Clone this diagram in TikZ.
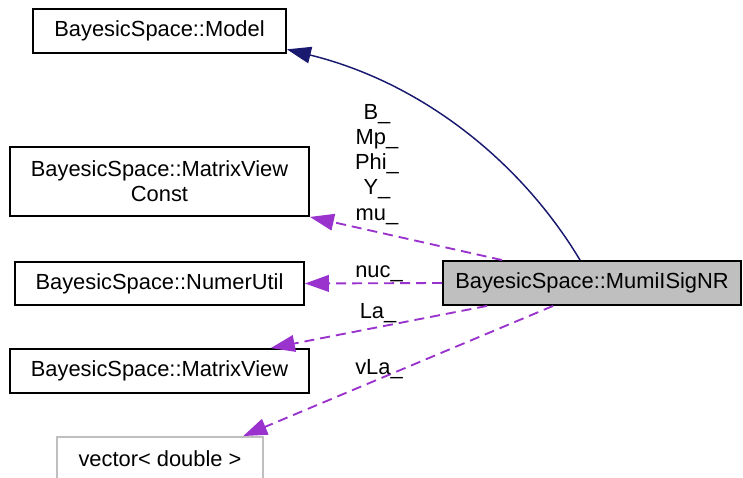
\documentclass[tikz,border=0pt]{standalone}
\usepackage{fontspec}
\setmainfont{Liberation Sans}
\usepackage{xcolor}
\definecolor{inheritcolor}{RGB}{25, 25, 112}
\definecolor{usagecolor}{RGB}{154, 50, 205}
\definecolor{extcolor}{RGB}{191, 191, 191}
\usetikzlibrary{arrows.meta, calc}

\begin{document}
\begin{tikzpicture}[x=0.75pt, y=-0.75pt,
  every node/.style={font=\fontsize{16.4}{18.75}\selectfont, inner sep=0pt},
  cls/.style={draw=black, line width=1.4pt, minimum height=33pt, align=center},
  member/.style={usagecolor, dash pattern=on 7.5pt off 4.5pt, line width=1.4pt,
    -{Triangle[length=18pt,width=12.5pt]}},
  lbl/.style={anchor=base}]
 \clip (0,0) rectangle (743,478);
 % classes on the left, the documented class on the right
 \node[cls, minimum width=189.75pt] (model) at (159.5,31) {BayesicSpace::Model};
 \node[cls, minimum width=224.25pt, minimum height=51.75pt] (mvc) at (159.5,181.5)
   {BayesicSpace::MatrixView\\Const};
 \node[cls, minimum width=216.75pt, minimum height=32.25pt] (numer) at (159.5,283.5)
   {BayesicSpace::NumerUtil};
 \node[cls, minimum width=224.25pt] (mview) at (159.5,371) {BayesicSpace::MatrixView};
 \node[cls, draw=extcolor, minimum width=154.5pt] (vec) at (160,459) {vector< double >};
 \node[cls, fill=extcolor, minimum width=223.5pt] (mumi) at (592,283)
   {BayesicSpace::MumiISigNR};
 % inheritance
 \draw[inheritcolor, line width=1.1pt, -{Triangle[length=18pt,width=12.5pt]}]
   ($(mumi.north west)!0.46!(mumi.north east)$) .. controls (520,160) and (420,82) ..
   ($(model.north east)!0.9!(model.south east)$);
 % members
 \draw[member] ($(mumi.north west)!0.2!(mumi.north east)$) -- (mvc.south east);
 \draw[member] (mumi.west) -- (numer.east);
 \draw[member] ($(mumi.south west)!0.15!(mumi.south east)$)
   -- ($(mview.north west)!0.87!(mview.north east)$);
 \draw[member] ($(mumi.south west)!0.37!(mumi.south east)$)
   -- ($(vec.north west)!0.9!(vec.north east)$);
 \foreach \t [count=\i] in {B,Mp,Phi,Y,mu}
   \node[lbl] (lbl\i) at (377,{95+25*\i}) {\t\_};
 \node[lbl] (lblnuc) at (379,277) {nuc\_};
 \node[lbl] (lblla) at (378,318) {La\_};
 \node[lbl] (lblvla) at (379,374) {vLa\_};
\end{tikzpicture}
\end{document}
